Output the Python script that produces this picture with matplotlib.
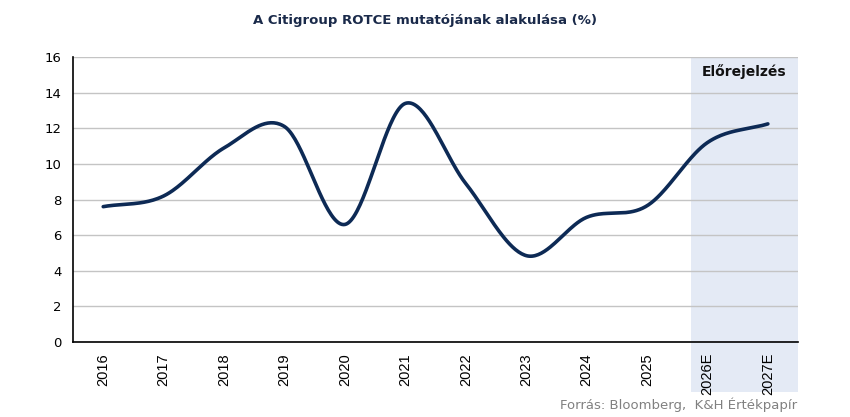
import numpy as np
import matplotlib.pyplot as plt
from matplotlib.patches import Rectangle
import matplotlib.transforms as mtransforms

# ROTCE (%)
years = ['2016', '2017', '2018', '2019', '2020', '2021', '2022', '2023',
         '2024', '2025', '2026E', '2027E']
rotce = [7.6, 8.2, 10.9, 12.1, 6.6, 13.4, 8.9, 4.85, 7.0, 7.65, 11.2, 12.25]

forecast_start = 10  # index of first forecast year


def smooth(x, y, n=40):
    # Catmull-Rom style smoothing, like the spreadsheet "smoothed line"
    x = np.asarray(x, float)
    y = np.asarray(y, float)
    m = np.zeros_like(y)
    m[1:-1] = (y[2:] - y[:-2]) / (x[2:] - x[:-2])
    m[0] = (y[1] - y[0]) / (x[1] - x[0])
    m[-1] = (y[-1] - y[-2]) / (x[-1] - x[-2])
    xs, ys = [], []
    for i in range(len(x) - 1):
        h = x[i + 1] - x[i]
        t = np.linspace(0, 1, n, endpoint=False)
        h00 = 2 * t**3 - 3 * t**2 + 1
        h10 = t**3 - 2 * t**2 + t
        h01 = -2 * t**3 + 3 * t**2
        h11 = t**3 - t**2
        xs.append(x[i] + t * h)
        ys.append(h00 * y[i] + h10 * h * m[i] + h01 * y[i + 1] + h11 * h * m[i + 1])
    xs.append([x[-1]])
    ys.append([y[-1]])
    return np.concatenate(xs), np.concatenate(ys)


fig = plt.figure(figsize=(8.5, 4.17), dpi=100)
ax = fig.add_axes([0.0859, 0.180, 0.853, 0.683])

x = np.arange(len(years))
xs, ys = smooth(x, rotce)

# forecast shading, reaching down behind the tick labels
trans = mtransforms.blended_transform_factory(ax.transData, ax.transAxes)
ax.add_patch(Rectangle((forecast_start - 0.28, -0.175), 11.5 - (forecast_start - 0.28), 1.175,
                       transform=trans, facecolor='#e4eaf5', edgecolor='none',
                       clip_on=False, zorder=0))
ax.text(10.6, 15.2, 'Előrejelzés', ha='center', va='center', fontsize=10,
        fontweight='bold', color='#111111')

ax.plot(xs, ys, color='#0d2a55', linewidth=2.6, solid_capstyle='round', zorder=3)

ax.set_xlim(-0.5, 11.5)
ax.set_ylim(0, 16)
ax.set_yticks(range(0, 17, 2))
ax.set_xticks(x)
ax.set_xticklabels(years, rotation=90, fontsize=10.5, family='Liberation Sans')
ax.tick_params(axis='both', length=0, pad=8)
ax.tick_params(axis='y', labelsize=9.5)
ax.yaxis.grid(True, color='#c4c4c4', linewidth=1)
ax.set_axisbelow(True)
for s in ['top', 'right']:
    ax.spines[s].set_visible(False)
ax.spines['left'].set_linewidth(1.2)
ax.spines['bottom'].set_linewidth(1.2)
ax.spines['bottom'].set_zorder(4)
ax.patch.set_alpha(0)

fig.text(0.5, 0.952, 'A Citigroup ROTCE mutatójának alakulása (%)', ha='center',
         va='center', fontsize=9.5, fontweight='bold', color='#1a2a4a')
fig.text(0.938, 0.03, 'Forrás: Bloomberg,  K&H Értékpapír', ha='right', va='center',
         fontsize=9.5, color='#808080')

fig.savefig('out.png', dpi=100)
